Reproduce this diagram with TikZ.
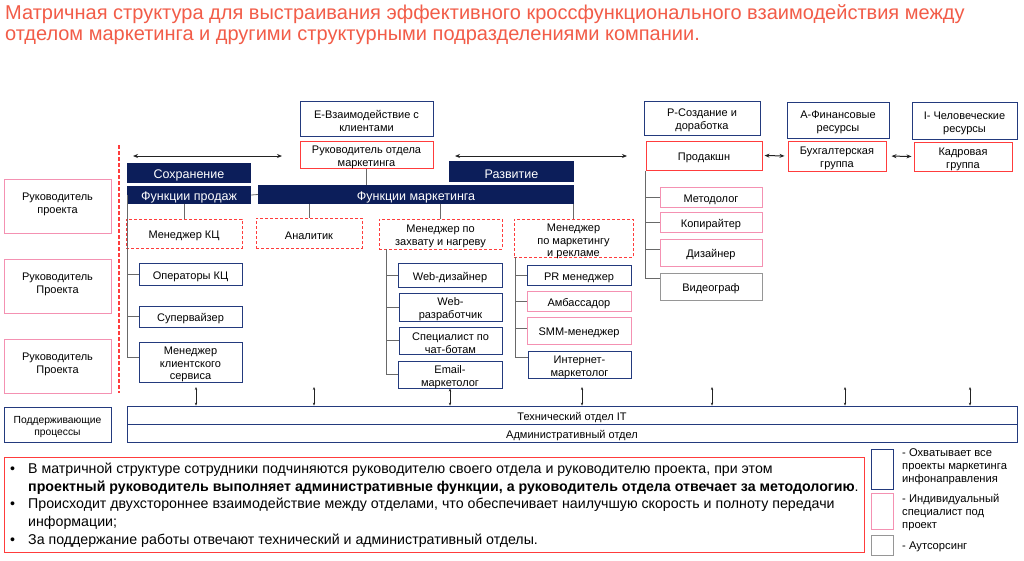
\documentclass[tikz,border=0pt]{standalone}
\usepackage{fontspec}
\setmainfont{Liberation Sans}
\usetikzlibrary{arrows.meta}
\definecolor{titlec}{RGB}{242,92,72}
\definecolor{navyf}{RGB}{12,30,90}
\definecolor{navyb}{RGB}{35,58,125}
\definecolor{redb}{RGB}{255,60,60}
\definecolor{pinkb}{RGB}{244,145,178}
\definecolor{grayb}{RGB}{150,150,150}
\definecolor{connc}{RGB}{105,105,105}
\definecolor{arrc}{RGB}{35,35,35}
\newcommand\myboxs[8]{\node[#2, minimum width={#5-#3}, minimum height={#6-#4}] (#1) at ({(#3+#5)/2},{(#4+#6)/2}) {};
  \node[#2, draw=none, fill=none, minimum width=0pt, minimum height=0pt] (#1t) at ([yshift=#8]#1.center) {#7};}
\newcommand\mybox[7]{\myboxs{#1}{#2}{#3}{#4}{#5}{#6}{#7}{-2.5pt}}
\begin{document}
\begin{tikzpicture}[x=1pt,y=-1pt,
  nb/.style={draw=navyb, line width=1pt, fill=white, font=\fontsize{11}{12.8}\selectfont, align=center, inner sep=0pt},
  rb/.style={nb, draw=redb},
  pb/.style={nb, draw=pinkb},
  gb/.style={nb, draw=grayb},
  db/.style={nb, draw=redb, dashed, dash pattern=on 3pt off 2pt, line width=0.9pt},
  fb/.style={fill=navyf, draw=none, text=white, font=\fontsize{12.5}{14}\selectfont, inner sep=0pt},
  sb/.style={nb, line width=0.8pt, font=\fontsize{10.3}{12.3}\selectfont},
  tb/.style={nb, line width=0.8pt, font=\fontsize{11}{13}\selectfont},
  conn/.style={draw=connc, line width=0.8pt},
  darr/.style={{Stealth[length=5pt,width=4pt]}-{Stealth[length=5pt,width=4pt]}, line width=1pt, draw=arrc},
  sarr/.style={{Stealth[length=3pt,width=2.4pt]}-{Stealth[length=3pt,width=2.4pt]}, line width=0.55pt, draw=arrc},
  leg/.style={anchor=base west, inner sep=0pt, font=\fontsize{11.2}{12.8}\selectfont},
  ntx/.style={anchor=base west, inner sep=0pt, font=\fontsize{14.2}{17.7}\selectfont},
]
\useasboundingbox (0,0) rectangle (1024,560);
\fill[white] (0,0) rectangle (1024,560);

% title
\node[anchor=base west, inner sep=0pt, text=titlec, font=\fontsize{20}{22}\selectfont] (t1) at (5,19) {Матричная структура для выстраивания эффективного кроссфункционального взаимодействия между};
\node[anchor=base west, inner sep=0pt, text=titlec, font=\fontsize{20}{22}\selectfont] (t2) at (5,40) {отделом маркетинга и другими структурными подразделениями компании.};

% header boxes
\mybox{E}{nb}{300}{101}{433}{136}{E-Взаимодействие с\\клиентами}
\mybox{rom}{rb}{300}{141}{433}{168}{Руководитель отдела\\маркетинга}
\mybox{P}{nb}{644}{101}{760}{135}{P-Создание и\\доработка}
\mybox{prod}{rb}{646}{141}{762}{170}{Продакшн}
\mybox{A}{nb}{787}{102}{889}{138}{A-Финансовые\\ресурсы}
\mybox{buh}{rb}{788}{141}{886}{171}{Бухгалтерская\\группа}
\mybox{I}{nb}{912}{102}{1017}{139}{I- Человеческие\\ресурсы}
\mybox{kadr}{rb}{914}{142}{1012}{171}{Кадровая\\группа}

% arrows
\coordinate (a1l) at (133,156); \coordinate (a1r) at (282,156);
\coordinate (a2l) at (455,156); \coordinate (a2r) at (627,156);
\draw[darr] (a1l) -- (a1r);
\draw[darr] (a2l) -- (a2r);
\draw[darr, shorten <=2pt, shorten >=3pt] (prod.east) -- (buh.west);
\draw[darr, shorten <=5pt, shorten >=2pt] (buh.east) -- (kadr.west);

% red dashed divider
\coordinate (dv1) at (119,145); \coordinate (dv2) at (119,393);
\draw[redb, dashed, dash pattern=on 3.5pt off 2.5pt, line width=1.2pt] (dv1) -- (dv2);

% navy bars
\mybox{sohr}{fb}{127}{163}{251}{183}{Сохранение}
\mybox{fprod}{fb}{127}{186}{251}{204}{Функции продаж}
\mybox{fmark}{fb}{258}{185}{574}{204}{Функции маркетинга}
\mybox{razv}{fb}{449}{161}{574}{182}{Развитие}
\draw[conn] (fprod.east) -- (fmark.west);
\draw[conn] (rom.south) -- (rom.south |- fmark.north);

% dashed managers
\mybox{mkc}{db}{126}{219}{242}{248}{Менеджер КЦ}
\mybox{anal}{db}{256}{218}{362}{248}{Аналитик}
\mybox{mzah}{db}{379}{219}{502}{249}{Менеджер по\\захвату и нагреву}
\myboxs{mmr}{db}{514}{219}{633}{257}{Менеджер\\по маркетингу\\и рекламе}{-3.5pt}
\draw[conn] (mkc.north |- fprod.south) -- (mkc.north);
\draw[conn] (anal.north |- fmark.south) -- (anal.north);
\draw[conn] (mzah.north |- fmark.south) -- (mzah.north);
\draw[conn] (mmr.north |- fmark.south) -- (mmr.north);

% left column
\mybox{opkc}{nb}{139}{263}{242}{285}{Операторы КЦ}
\mybox{sup}{nb}{139}{306}{242}{327}{Супервайзер}
\mybox{mks}{nb}{139}{342}{242}{382}{Менеджер\\клиентского\\сервиса}
\coordinate (lc) at (127.5,195);
\draw[conn] (lc) |- ([yshift=5pt]mks.west);
\draw[conn] (opkc.west) -- (opkc.west -| lc);
\draw[conn] (sup.west) -- (sup.west -| lc);

% middle column
\mybox{wd}{nb}{398}{263}{502}{287}{Web-дизайнер}
\mybox{wr}{nb}{399}{293}{502}{321}{Web-\\разработчик}
\mybox{chat}{nb}{399}{327}{502}{354}{Специалист по\\чат-ботам}
\mybox{email}{nb}{398}{361}{502}{388}{Email-\\маркетолог}
\coordinate (mc) at (386,249);
\draw[conn] (mc) |- (email.west);
\draw[conn] (wd.west) -- (wd.west -| mc);
\draw[conn] (wr.west) -- (wr.west -| mc);
\draw[conn] (chat.west) -- (chat.west -| mc);

% right-middle column
\mybox{pr}{nb}{527}{265}{631}{285}{PR менеджер}
\mybox{amb}{pb}{527}{291}{631}{311}{Амбассадор}
\mybox{smm}{pb}{527}{317}{631}{344}{SMM-менеджер}
\mybox{inet}{nb}{528}{351}{631}{378}{Интернет-\\маркетолог}
\coordinate (rc) at (515,257);
\draw[conn] (rc) |- ([yshift=7pt]inet.west);
\draw[conn] (pr.west) -- (pr.west -| rc);
\draw[conn] (amb.west) -- (amb.west -| rc);
\draw[conn] ([yshift=2pt]smm.west) -- ([yshift=2pt]smm.west -| rc);

% production column
\mybox{met}{pb}{660}{187}{762}{207}{Методолог}
\mybox{kop}{pb}{660}{212}{762}{232}{Копирайтер}
\mybox{diz}{pb}{660}{239}{762}{266}{Дизайнер}
\mybox{vid}{gb}{660}{273}{762}{300}{Видеограф}
\draw[conn] (prod.south west) |- ([yshift=8pt]vid.west);
\draw[conn] (met.west) -- (met.west -| prod.south west);
\draw[conn] (kop.west) -- (kop.west -| prod.south west);
\draw[conn] ([yshift=3pt]diz.west) -- ([yshift=3pt]diz.west -| prod.south west);

% project leads
\myboxs{rp1}{pb}{4}{179}{111}{233}{Руководитель\\проекта}{1.5pt}
\myboxs{rp2}{pb}{4}{259}{111}{313}{Руководитель\\Проекта}{1.5pt}
\myboxs{rp3}{pb}{4}{339}{111}{393}{Руководитель\\Проекта}{1.5pt}

% support
\mybox{supp}{sb}{4}{407}{111}{442}{Поддерживающие\\процессы}
\mybox{tech}{tb}{127}{406}{1017}{424}{Технический отдел IT}
\mybox{adm}{tb}{127}{424}{1017}{442}{Административный отдел}
\coordinate (s1) at (196,387);
\coordinate (s2) at (314,387);
\coordinate (s4) at (582,387);
\coordinate (s5) at (712,387);
\coordinate (s6) at (845,387);
\coordinate (s7) at (970,387);
\foreach \s in {s1,s2,s4,s5,s6,s7} {\draw[sarr] (\s) -- (\s |- tech.north);}
\draw[sarr] (email.south) -- (email.south |- tech.north);

% bottom text
\node[draw=redb, line width=1pt, minimum width=860, minimum height=95, inner sep=0pt] (noteb) at (434,504.5) {};
\node[ntx] (b1) at (10,473.5) {•};
\node[ntx] (b2) at (10,508.5) {•};
\node[ntx] (b3) at (10,544) {•};
\node[ntx] (n1) at (28,473.5) {В матричной структуре сотрудники подчиняются руководителю своего отдела и руководителю проекта, при этом};
\node[ntx] (n2) at (28,491) {\textbf{проектный руководитель выполняет административные функции, а руководитель отдела отвечает за методологию}.};
\node[ntx] (n3) at (28,508.5) {Происходит двухстороннее взаимодействие между отделами, что обеспечивает наилучшую скорость и полноту передачи};
\node[ntx] (n4) at (28,526) {информации;};
\node[ntx] (n5) at (28,544) {За поддержание работы отвечают технический и административный отделы.};

% legend
\mybox{lg1}{nb}{871}{449}{893}{489}{}
\mybox{lg2}{pb}{871}{493}{893}{529}{}
\mybox{lg3}{gb}{871}{535}{893}{555}{}
\node[leg] (l1) at (902,456.5) {- Охватывает все};
\node[leg] (l2) at (902,469.5) {проекты маркетинга};
\node[leg] (l3) at (902,482.5) {инфонаправления};
\node[leg] (l4) at (902,502.5) {- Индивидуальный};
\node[leg] (l5) at (902,515.5) {специалист под};
\node[leg] (l6) at (902,528.5) {проект};
\node[leg] (l7) at (902,549.5) {- Аутсорсинг};
\end{tikzpicture}
\end{document}
